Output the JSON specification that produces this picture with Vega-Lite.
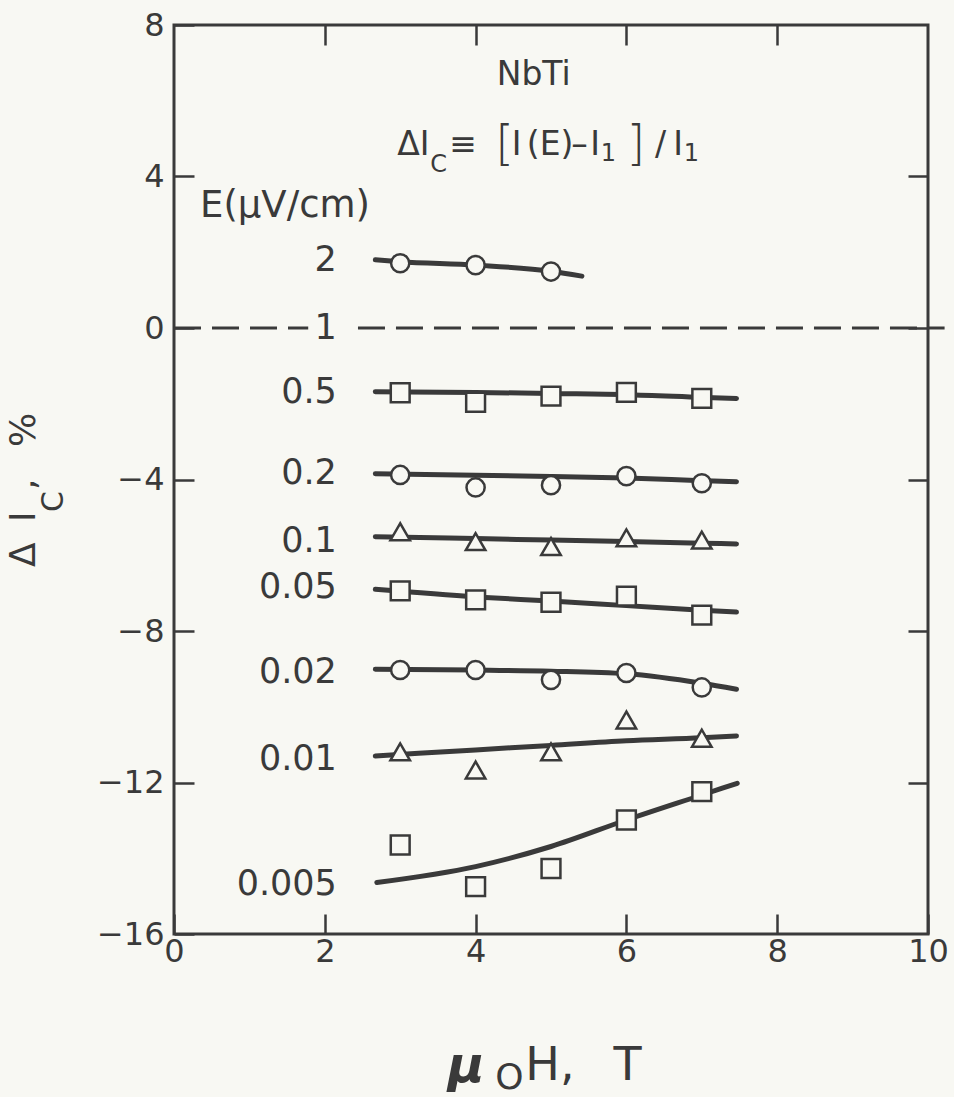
{
  "$schema": "https://vega.github.io/schema/vega-lite/v6.json",
  "width": 754,
  "height": 909,
  "autosize": {"type": "none"},
  "padding": {"left": 174, "top": 25, "right": 26, "bottom": 163},
  "background": "#f8f8f3",
  "config": {
    "view": {"stroke": "#3a3a3a", "strokeWidth": 3},
    "font": "DejaVu Sans",
    "axis": {
      "grid": false,
      "domain": false,
      "tickColor": "#3a3a3a",
      "tickWidth": 2.5,
      "labelColor": "#3a3a3a",
      "labelFont": "DejaVu Sans",
      "labelFontSize": 32
    }
  },
  "datasets": {
    "points": [
      {"E": "2", "x": 3, "y": 1.71, "marker": "circle"},
      {"E": "2", "x": 4, "y": 1.66, "marker": "circle"},
      {"E": "2", "x": 5, "y": 1.49, "marker": "circle"},
      {"E": "0.5", "x": 3, "y": -1.71, "marker": "square"},
      {"E": "0.5", "x": 4, "y": -1.96, "marker": "square"},
      {"E": "0.5", "x": 5, "y": -1.80, "marker": "square"},
      {"E": "0.5", "x": 6, "y": -1.70, "marker": "square"},
      {"E": "0.5", "x": 7, "y": -1.86, "marker": "square"},
      {"E": "0.2", "x": 3, "y": -3.88, "marker": "circle"},
      {"E": "0.2", "x": 4, "y": -4.21, "marker": "circle"},
      {"E": "0.2", "x": 5, "y": -4.15, "marker": "circle"},
      {"E": "0.2", "x": 6, "y": -3.91, "marker": "circle"},
      {"E": "0.2", "x": 7, "y": -4.10, "marker": "circle"},
      {"E": "0.1", "x": 3, "y": -5.38, "marker": "triangle"},
      {"E": "0.1", "x": 4, "y": -5.64, "marker": "triangle"},
      {"E": "0.1", "x": 5, "y": -5.77, "marker": "triangle"},
      {"E": "0.1", "x": 6, "y": -5.54, "marker": "triangle"},
      {"E": "0.1", "x": 7, "y": -5.60, "marker": "triangle"},
      {"E": "0.05", "x": 3, "y": -6.94, "marker": "square"},
      {"E": "0.05", "x": 4, "y": -7.18, "marker": "square"},
      {"E": "0.05", "x": 5, "y": -7.24, "marker": "square"},
      {"E": "0.05", "x": 6, "y": -7.08, "marker": "square"},
      {"E": "0.05", "x": 7, "y": -7.58, "marker": "square"},
      {"E": "0.02", "x": 3, "y": -9.03, "marker": "circle"},
      {"E": "0.02", "x": 4, "y": -9.03, "marker": "circle"},
      {"E": "0.02", "x": 5, "y": -9.29, "marker": "circle"},
      {"E": "0.02", "x": 6, "y": -9.11, "marker": "circle"},
      {"E": "0.02", "x": 7, "y": -9.49, "marker": "circle"},
      {"E": "0.01", "x": 3, "y": -11.19, "marker": "triangle"},
      {"E": "0.01", "x": 4, "y": -11.67, "marker": "triangle"},
      {"E": "0.01", "x": 5, "y": -11.19, "marker": "triangle"},
      {"E": "0.01", "x": 6, "y": -10.35, "marker": "triangle"},
      {"E": "0.01", "x": 7, "y": -10.83, "marker": "triangle"},
      {"E": "0.005", "x": 3, "y": -13.65, "marker": "square"},
      {"E": "0.005", "x": 4, "y": -14.75, "marker": "square"},
      {"E": "0.005", "x": 5, "y": -14.27, "marker": "square"},
      {"E": "0.005", "x": 6, "y": -12.99, "marker": "square"},
      {"E": "0.005", "x": 7, "y": -12.24, "marker": "square"}
    ],
    "curves": [
      {"E": "2", "x": 2.67, "y": 1.80},
      {"E": "2", "x": 3, "y": 1.75},
      {"E": "2", "x": 4, "y": 1.66},
      {"E": "2", "x": 5, "y": 1.50},
      {"E": "2", "x": 5.41, "y": 1.37},
      {"E": "0.5", "x": 2.67, "y": -1.68},
      {"E": "0.5", "x": 4, "y": -1.70},
      {"E": "0.5", "x": 5, "y": -1.73},
      {"E": "0.5", "x": 6, "y": -1.76},
      {"E": "0.5", "x": 7, "y": -1.83},
      {"E": "0.5", "x": 7.46, "y": -1.86},
      {"E": "0.2", "x": 2.67, "y": -3.85},
      {"E": "0.2", "x": 4, "y": -3.89},
      {"E": "0.2", "x": 5, "y": -3.92},
      {"E": "0.2", "x": 6, "y": -3.96},
      {"E": "0.2", "x": 7, "y": -4.03},
      {"E": "0.2", "x": 7.46, "y": -4.06},
      {"E": "0.1", "x": 2.67, "y": -5.51},
      {"E": "0.1", "x": 4, "y": -5.56},
      {"E": "0.1", "x": 5, "y": -5.60},
      {"E": "0.1", "x": 6, "y": -5.64},
      {"E": "0.1", "x": 7, "y": -5.68},
      {"E": "0.1", "x": 7.46, "y": -5.70},
      {"E": "0.05", "x": 2.67, "y": -6.90},
      {"E": "0.05", "x": 4, "y": -7.10},
      {"E": "0.05", "x": 5, "y": -7.21},
      {"E": "0.05", "x": 6, "y": -7.33},
      {"E": "0.05", "x": 7, "y": -7.45},
      {"E": "0.05", "x": 7.46, "y": -7.50},
      {"E": "0.02", "x": 2.67, "y": -9.01},
      {"E": "0.02", "x": 4, "y": -9.03},
      {"E": "0.02", "x": 5, "y": -9.06},
      {"E": "0.02", "x": 6, "y": -9.13},
      {"E": "0.02", "x": 7, "y": -9.38},
      {"E": "0.02", "x": 7.46, "y": -9.54},
      {"E": "0.01", "x": 2.67, "y": -11.30},
      {"E": "0.01", "x": 4, "y": -11.14},
      {"E": "0.01", "x": 5, "y": -11.02},
      {"E": "0.01", "x": 6, "y": -10.90},
      {"E": "0.01", "x": 7, "y": -10.82},
      {"E": "0.01", "x": 7.46, "y": -10.77},
      {"E": "0.005", "x": 2.69, "y": -14.64},
      {"E": "0.005", "x": 4, "y": -14.22},
      {"E": "0.005", "x": 5, "y": -13.69},
      {"E": "0.005", "x": 6, "y": -12.99},
      {"E": "0.005", "x": 7, "y": -12.33},
      {"E": "0.005", "x": 7.47, "y": -12.02}
    ],
    "dashed": [
      {"seg": "a", "x": 0, "y": 0},
      {"seg": "a", "x": 1.78, "y": 0},
      {"seg": "b", "x": 2.44, "y": 0},
      {"seg": "b", "x": 10.22, "y": 0}
    ],
    "serieslabels": [
      {"text": "2", "x": 2.16, "y": 1.79},
      {"text": "1", "x": 2.16, "y": 0.0},
      {"text": "0.5", "x": 2.16, "y": -1.68},
      {"text": "0.2", "x": 2.16, "y": -3.83},
      {"text": "0.1", "x": 2.16, "y": -5.63},
      {"text": "0.05", "x": 2.16, "y": -6.85},
      {"text": "0.02", "x": 2.16, "y": -9.08},
      {"text": "0.01", "x": 2.16, "y": -11.38},
      {"text": "0.005", "x": 2.16, "y": -14.69}
    ],
    "notes": [
      {"role": "main", "text": "ΔI", "x": 2.96, "y": 4.57},
      {"role": "main", "text": "≡", "x": 3.65, "y": 4.57},
      {"role": "main", "text": "I", "x": 4.48, "y": 4.57},
      {"role": "main", "text": "(E)", "x": 4.68, "y": 4.57},
      {"role": "main", "text": "–", "x": 5.27, "y": 4.57},
      {"role": "main", "text": "I", "x": 5.52, "y": 4.57},
      {"role": "main", "text": "/", "x": 6.38, "y": 4.57},
      {"role": "main", "text": "I", "x": 6.62, "y": 4.57},
      {"role": "sub", "text": "C", "x": 3.40, "y": 4.12},
      {"role": "sub", "text": "1", "x": 5.66, "y": 4.41},
      {"role": "sub", "text": "1", "x": 6.76, "y": 4.41},
      {"role": "bracket", "text": "[", "x": 4.26, "y": 4.44},
      {"role": "bracket", "text": "]", "x": 6.0, "y": 4.44},
      {"role": "main", "text": "NbTi", "x": 4.28, "y": 6.42},
      {"role": "unit", "text": "E(μV/cm)", "x": 0.345, "y": 2.93}
    ],
    "ytitle": [
      {"role": "big", "text": "Δ", "x": -1.84, "y": -6.31},
      {"role": "big", "text": "I", "x": -1.84, "y": -5.12},
      {"role": "sub", "text": "C", "x": -1.47, "y": -4.86},
      {"role": "big", "text": ",", "x": -1.84, "y": -4.28},
      {"role": "big", "text": "%", "x": -1.84, "y": -3.14}
    ],
    "xtitle": [
      {"role": "mu", "text": "μ", "x": 3.63, "y": -19.91},
      {"role": "sub", "text": "O", "x": 4.26, "y": -20.1},
      {"role": "big", "text": "H,", "x": 4.66, "y": -19.85},
      {"role": "big", "text": "T", "x": 5.83, "y": -19.85}
    ]
  },
  "resolve": {"axis": {"x": "independent", "y": "independent"}},
  "layer": [
    {
      "data": {"name": "curves"},
      "mark": {"type": "line", "color": "#3a3a3a", "strokeWidth": 5, "strokeCap": "round", "interpolate": "monotone"},
      "encoding": {
        "x": {"field": "x", "type": "quantitative", "scale": {"domain": [0, 10], "nice": false, "zero": false},
          "axis": {"orient": "bottom", "values": [0, 2, 4, 6, 8, 10], "tickSize": -20, "labelPadding": 22, "labelFlush": false, "title": null}},
        "y": {"field": "y", "type": "quantitative", "scale": {"domain": [-16, 8], "nice": false, "zero": false},
          "axis": {"orient": "left", "values": [8, 4, 0, -4, -8, -12, -16], "tickSize": -20, "labelPadding": 30, "labelFlush": false, "title": null}},
        "detail": {"field": "E"}
      }
    },
    {
      "data": {"name": "dashed"},
      "mark": {"type": "line", "color": "#3a3a3a", "strokeWidth": 3, "strokeDash": [27, 11], "clip": false},
      "encoding": {
        "x": {"field": "x", "type": "quantitative", "scale": {"domain": [0, 10]},
          "axis": {"orient": "top", "values": [2, 4, 6, 8], "tickSize": -20, "labels": false, "title": null}},
        "y": {"field": "y", "type": "quantitative", "scale": {"domain": [-16, 8]},
          "axis": {"orient": "right", "values": [4, 0, -4, -8, -12], "tickSize": -20, "labels": false, "title": null}},
        "detail": {"field": "seg"}
      }
    },
    {
      "data": {"name": "points"},
      "mark": {"type": "point", "filled": true, "fill": "#f8f8f3", "stroke": "#3a3a3a", "strokeWidth": 2.5, "opacity": 1},
      "encoding": {
        "x": {"field": "x", "type": "quantitative", "axis": null},
        "y": {"field": "y", "type": "quantitative", "axis": null},
        "shape": {"field": "marker", "type": "nominal", "scale": {"domain": ["circle", "square", "triangle"], "range": ["circle", "square", "triangle-up"]}, "legend": null},
        "size": {"field": "marker", "type": "nominal", "scale": {"domain": ["circle", "square", "triangle"], "range": [330, 380, 400]}, "legend": null}
      }
    },
    {
      "data": {"name": "serieslabels"},
      "mark": {"type": "text", "align": "right", "baseline": "middle", "fontSize": 35, "color": "#3a3a3a"},
      "encoding": {
        "x": {"field": "x", "type": "quantitative", "axis": null},
        "y": {"field": "y", "type": "quantitative", "axis": null},
        "text": {"field": "text"}
      }
    },
    {
      "data": {"name": "notes"},
      "transform": [{"filter": "datum.role === 'main'"}],
      "mark": {"type": "text", "align": "left", "baseline": "alphabetic", "fontSize": 33, "color": "#3a3a3a"},
      "encoding": {
        "x": {"field": "x", "type": "quantitative", "axis": null},
        "y": {"field": "y", "type": "quantitative", "axis": null},
        "text": {"field": "text"}
      }
    },
    {
      "data": {"name": "notes"},
      "transform": [{"filter": "datum.role === 'sub'"}],
      "mark": {"type": "text", "align": "left", "baseline": "alphabetic", "fontSize": 24, "color": "#3a3a3a"},
      "encoding": {
        "x": {"field": "x", "type": "quantitative", "axis": null},
        "y": {"field": "y", "type": "quantitative", "axis": null},
        "text": {"field": "text"}
      }
    },
    {
      "data": {"name": "notes"},
      "transform": [{"filter": "datum.role === 'bracket'"}],
      "mark": {"type": "text", "align": "left", "baseline": "alphabetic", "fontSize": 48, "fontWeight": 300, "color": "#3a3a3a"},
      "encoding": {
        "x": {"field": "x", "type": "quantitative", "axis": null},
        "y": {"field": "y", "type": "quantitative", "axis": null},
        "text": {"field": "text"}
      }
    },
    {
      "data": {"name": "notes"},
      "transform": [{"filter": "datum.role === 'unit'"}],
      "mark": {"type": "text", "align": "left", "baseline": "alphabetic", "fontSize": 37, "color": "#3a3a3a"},
      "encoding": {
        "x": {"field": "x", "type": "quantitative", "axis": null},
        "y": {"field": "y", "type": "quantitative", "axis": null},
        "text": {"field": "text"}
      }
    },
    {
      "data": {"name": "ytitle"},
      "transform": [{"filter": "datum.role === 'big'"}],
      "mark": {"type": "text", "align": "left", "baseline": "alphabetic", "angle": 270, "fontSize": 36, "color": "#3a3a3a"},
      "encoding": {
        "x": {"field": "x", "type": "quantitative", "axis": null},
        "y": {"field": "y", "type": "quantitative", "axis": null},
        "text": {"field": "text"}
      }
    },
    {
      "data": {"name": "ytitle"},
      "transform": [{"filter": "datum.role === 'sub'"}],
      "mark": {"type": "text", "align": "left", "baseline": "alphabetic", "angle": 270, "fontSize": 30, "color": "#3a3a3a"},
      "encoding": {
        "x": {"field": "x", "type": "quantitative", "axis": null},
        "y": {"field": "y", "type": "quantitative", "axis": null},
        "text": {"field": "text"}
      }
    },
    {
      "data": {"name": "xtitle"},
      "transform": [{"filter": "datum.role === 'mu'"}],
      "mark": {"type": "text", "align": "left", "baseline": "alphabetic", "fontSize": 50, "fontStyle": "italic", "fontWeight": "bold", "color": "#3a3a3a"},
      "encoding": {
        "x": {"field": "x", "type": "quantitative", "axis": null},
        "y": {"field": "y", "type": "quantitative", "axis": null},
        "text": {"field": "text"}
      }
    },
    {
      "data": {"name": "xtitle"},
      "transform": [{"filter": "datum.role === 'sub'"}],
      "mark": {"type": "text", "align": "left", "baseline": "alphabetic", "fontSize": 36, "color": "#3a3a3a"},
      "encoding": {
        "x": {"field": "x", "type": "quantitative", "axis": null},
        "y": {"field": "y", "type": "quantitative", "axis": null},
        "text": {"field": "text"}
      }
    },
    {
      "data": {"name": "xtitle"},
      "transform": [{"filter": "datum.role === 'big'"}],
      "mark": {"type": "text", "align": "left", "baseline": "alphabetic", "fontSize": 46, "color": "#3a3a3a"},
      "encoding": {
        "x": {"field": "x", "type": "quantitative", "axis": null},
        "y": {"field": "y", "type": "quantitative", "axis": null},
        "text": {"field": "text"}
      }
    }
  ]
}
